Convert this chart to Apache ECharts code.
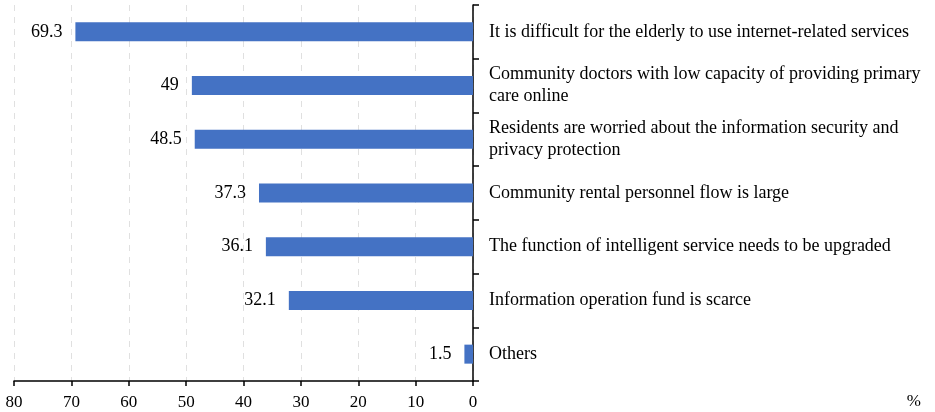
<!DOCTYPE html>
<html><head><meta charset="utf-8">
<script src="https://cdn.jsdelivr.net/npm/echarts@6/dist/echarts.min.js"></script>
<style>html,body{margin:0;padding:0;background:#fff}#c{width:935px;height:412px}</style>
</head><body><div id="c"></div>
<script>
var categories = [
  "It is difficult for the elderly to use internet-related services",
  "Community doctors with low capacity of providing primary care online",
  "Residents are worried about the information security and privacy protection",
  "Community rental personnel flow is large",
  "The function of intelligent service needs to be upgraded",
  "Information operation fund is scarce",
  "Others"
];
var values = [69.3, 49, 48.5, 37.3, 36.1, 32.1, 1.5];
var unitLabel = "%";

var font = "Liberation Serif, Times New Roman, serif";
var chart = echarts.init(document.getElementById('c'));
chart.setOption({
  animation: false,
  grid: {left: 14, right: 462, top: 5, bottom: 31, containLabel: false, outerBoundsMode: 'none'},
  xAxis: {
    type: 'value', inverse: true, min: 0, max: 80, interval: 10,
    axisLine: {show: true, lineStyle: {color: '#000', width: 1.5}},
    axisTick: {show: true, length: 5, lineStyle: {color: '#000', width: 1.5}},
    axisLabel: {color: '#000', fontFamily: font, fontSize: 17, margin: 13},
    splitLine: {show: true, lineStyle: {color: '#e0e0e0', type: [6, 6], width: 1}}
  },
  yAxis: {
    type: 'category', inverse: true, position: 'right', data: categories,
    axisLine: {show: true, lineStyle: {color: '#000', width: 1.5}},
    axisTick: {show: true, length: 6, lineStyle: {color: '#000', width: 1.5}},
    axisLabel: {color: '#000', fontFamily: font, fontSize: 18, margin: 16, width: 450, overflow: 'break', lineHeight: 22, align: 'left'}
  },
  graphic: [{type: 'text', right: 14, bottom: 2, style: {text: unitLabel, fill: '#000', font: '17px ' + font}}],
  series: [{
    type: 'bar', data: values, barWidth: 19,
    itemStyle: {color: '#4472C4'},
    label: {show: true, position: 'left', distance: 13, color: '#000', fontFamily: font, fontSize: 18}
  }]
});
</script></body></html>
